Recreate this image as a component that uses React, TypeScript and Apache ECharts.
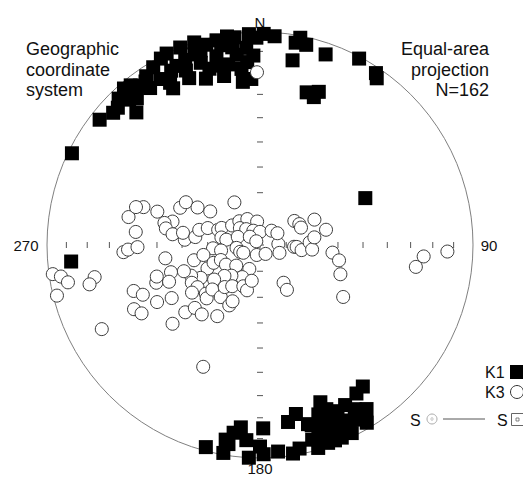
import React, { useEffect, useRef } from "react";
import * as echarts from "echarts";

// K1 (maximum susceptibility axes): trend° and plunge°
const K1_TREND: number[] = [
  1, 4, 357, 351, 352, 358, 356, 357, 354, 345, 342, 338, 334, 332, 347, 348, 342, 337, 331, 326,
  323, 319, 316, 329, 335, 342, 320, 325, 308, 312, 317, 296, 331, 350, 349, 353, 341, 337, 329, 321,
  344, 356, 343, 348, 338, 333, 325, 318, 314, 354, 353, 348, 359, 319,
  11, 10, 13, 10, 19, 28, 34, 35, 17, 21, 20, 66,
  265,
  195, 190, 190, 188, 186, 184, 183, 179, 180, 179, 175, 171, 171, 168, 159, 161, 164, 163, 164, 161,
  155, 157, 160, 157, 153, 151, 147, 149, 147, 144, 161, 155, 158, 154, 165, 158, 152, 159,
  160, 157, 150, 165, 169, 189,
];
const K1_PLUNGE: number[] = [
  1, 2, 1, 1, 7, 12, 15, 23, 24, 3, 0, 0, 0, 1, 10, 15, 19, 16, 14, 5,
  7, 5, 5, 3, 8, 11, 11, 11, 5, 8, 16, 2, 17, 15, 5, 2, 6, 12, 10, 4,
  15, 8, 5, 2, 7, 9, 7, 9, 8, 18, 11, 20, 3, 3,
  1, 4, 4, 13, 6, 1, 3, 5, 26, 24, 27, 45,
  12,
  2, 1, 8, 12, 15, 9, 0, 15, 6, 2, 3, 1, 17, 20, 22, 17, 13, 7, 1, 2,
  15, 8, 7, 2, 8, 7, 9, 3, 18, 19, 9, 10, 13, 2, 14, 18, 16, 2,
  14, 6, 12, 6, 3, 6,
];

// K3 (minimum susceptibility axes): trend° and plunge°
const K3_TREND: number[] = [
  359, 262, 261, 259, 256, 259, 257, 242, 267, 268, 269, 276, 282, 288, 287, 250, 247, 243, 240, 250,
  253, 241, 329, 295, 300, 301, 304, 288, 285, 283, 280, 277, 274, 279, 277, 284, 288, 290, 294, 305,
  319, 334, 353, 310, 319, 335, 0, 281, 279, 266, 262, 290, 309, 315, 263, 251, 245, 198, 148, 87,
  39, 56, 55, 62, 67, 93, 93, 97, 87, 95, 82, 77, 96, 101, 110, 122, 148, 149, 94, 98,
  92, 65, 112, 262, 257, 260, 246, 249, 249, 240, 229, 204, 209, 223, 229, 233, 241, 246, 251, 253,
  248, 241, 236, 235, 228, 225, 227, 217, 220, 214, 207, 206, 202, 196, 193, 239, 228, 226, 220, 211,
  228, 205,
];
const K3_PLUNGE: number[] = [
  20, 2, 6, 9, 2, 22, 19, 17, 36, 38, 42, 41, 37, 42, 39, 37, 40, 34, 36, 47,
  48, 44, 71, 56, 57, 62, 67, 48, 55, 52, 53, 56, 61, 60, 65, 66, 69, 73, 74, 77,
  78, 79, 81, 80, 82, 84, 85, 75, 77, 72, 75, 81, 85, 88, 81, 82, 83, 86, 86, 83,
  83, 82, 74, 73, 73, 77, 76, 74, 71, 70, 69, 64, 62, 59, 57, 52, 73, 70, 24, 27,
  13, 67, 82, 53, 64, 68, 68, 71, 74, 75, 78, 80, 76, 74, 72, 68, 64, 61, 59, 54,
  52, 60, 61, 58, 62, 61, 65, 65, 69, 71, 64, 66, 73, 72, 76, 50, 51, 55, 55, 58,
  44, 37,
];

// Reference ticks every 10° of plunge along the four cardinal directions
const TICK_PLUNGES: number[] = [10, 20, 30, 40, 50, 60, 70, 80];
const TICK_AZIMUTHS: number[] = [0, 90, 180, 270];

const TITLE_LEFT: string[] = ["Geographic", "coordinate", "system"];
const TITLE_RIGHT: string[] = ["Equal-area", "projection", "N=162"];
const LEGEND_LABELS: string[] = ["K1", "K3", "S", "S"];

const FONT = "'Liberation Sans', Arial, Helvetica, sans-serif";

// Lambert equal-area (lower hemisphere) projection of a line, unit primitive circle
function project(trend: number, plunge: number): [number, number] {
  const r = Math.SQRT2 * Math.sin(((90 - plunge) / 2) * (Math.PI / 180));
  const t = (trend * Math.PI) / 180;
  return [r * Math.sin(t), r * Math.cos(t)];
}

export default function App() {
  const ref = useRef<HTMLDivElement>(null);

  useEffect(() => {
    if (!ref.current) return;
    const chart = echarts.init(ref.current, undefined, { renderer: "svg" });

    const k1 = K1_TREND.map((t, i) => project(t, K1_PLUNGE[i]));
    const k3 = K3_TREND.map((t, i) => project(t, K3_PLUNGE[i]));
    const ticks: number[][] = [];
    TICK_AZIMUTHS.forEach((az) =>
      TICK_PLUNGES.forEach((p) => {
        const [x, y] = project(az, p);
        ticks.push([x, y, az]);
      })
    );

    const txt = (text: string, x: number, y: number, size: number, align: string = "left") => ({
      type: "text",
      x,
      y,
      silent: true,
      style: {
        text,
        fill: "#111",
        font: `${size}px ${FONT}`,
        textAlign: align,
        textVerticalAlign: "middle",
        verticalAlign: "middle",
      },
    });

    const graphic: any[] = [
      txt("N", 260, 22, 15, "center"),
      txt("180", 260, 468, 15, "center"),
      txt("270", 26, 245, 15, "center"),
      txt("90", 489, 245, 15, "center"),
      ...TITLE_LEFT.map((s, i) => txt(s, 26, 49 + i * 20.5, 18, "left")),
      ...TITLE_RIGHT.map((s, i) => txt(s, 489, 49 + i * 20.5, 18, "right")),
      txt(LEGEND_LABELS[0], 485, 372, 16, "left"),
      { type: "rect", shape: { x: 510, y: 365, width: 14, height: 14 }, style: { fill: "#000" }, silent: true },
      txt(LEGEND_LABELS[1], 485, 392, 16, "left"),
      { type: "circle", shape: { cx: 517, cy: 392, r: 6.5 }, style: { fill: "#fff", stroke: "#333", lineWidth: 1 }, silent: true },
      txt(LEGEND_LABELS[2], 410, 420, 16, "left"),
      { type: "circle", shape: { cx: 432, cy: 419, r: 5 }, style: { fill: "#fff", stroke: "#aaa", lineWidth: 1 }, silent: true },
      { type: "circle", shape: { cx: 432, cy: 419, r: 1.2 }, style: { fill: "none", stroke: "#aaa", lineWidth: 0.8 }, silent: true },
      { type: "line", shape: { x1: 443, y1: 419, x2: 485, y2: 419 }, style: { stroke: "#555", lineWidth: 1 }, silent: true },
      txt(LEGEND_LABELS[3], 497, 420, 16, "left"),
      { type: "rect", shape: { x: 511.5, y: 413.5, width: 12, height: 12 }, style: { fill: "#fff", stroke: "#666", lineWidth: 1 }, silent: true },
      { type: "rect", shape: { x: 516, y: 418, width: 3, height: 3 }, style: { fill: "none", stroke: "#666", lineWidth: 0.8 }, silent: true },
    ];

    chart.setOption({
      animation: false,
      backgroundColor: "#fff",
      grid: { left: 47, top: 32, width: 426, height: 426 },
      xAxis: { type: "value", min: -1, max: 1, show: false },
      yAxis: { type: "value", min: -1, max: 1, show: false },
      graphic,
      series: [
        {
          type: "custom",
          silent: true,
          clip: false,
          data: [[0, 0]],
          renderItem: (_p: any, api: any) => {
            const c = api.coord([0, 0]);
            const e = api.coord([1, 0]);
            return {
              type: "circle",
              shape: { cx: c[0], cy: c[1], r: e[0] - c[0] },
              style: { fill: "none", stroke: "#808080", lineWidth: 1 },
            };
          },
        },
        {
          type: "custom",
          silent: true,
          clip: false,
          data: ticks,
          renderItem: (_p: any, api: any) => {
            const pt = api.coord([api.value(0), api.value(1)]);
            const az = api.value(2);
            const vertAxis = az === 0 || az === 180;
            return {
              type: "line",
              shape: vertAxis
                ? { x1: pt[0] - 3, y1: pt[1], x2: pt[0] + 3, y2: pt[1] }
                : { x1: pt[0], y1: pt[1] - 3, x2: pt[0], y2: pt[1] + 3 },
              style: { stroke: "#555", lineWidth: 1 },
            };
          },
        },
        {
          type: "custom",
          silent: true,
          clip: false,
          data: [[0, 0]],
          renderItem: (_p: any, api: any) => {
            const c = api.coord([0, 0]);
            return {
              type: "group",
              children: [
                { type: "line", shape: { x1: c[0] - 4, y1: c[1], x2: c[0] + 4, y2: c[1] }, style: { stroke: "#555", lineWidth: 1 } },
                { type: "line", shape: { x1: c[0], y1: c[1] - 4, x2: c[0], y2: c[1] + 4 }, style: { stroke: "#555", lineWidth: 1 } },
              ],
            };
          },
        },
        {
          name: "K1",
          type: "scatter",
          symbol: "rect",
          symbolSize: 14,
          data: k1,
          itemStyle: { color: "#000", opacity: 1 },
        },
        {
          name: "K3",
          type: "scatter",
          symbol: "circle",
          symbolSize: 13,
          data: k3,
          itemStyle: { color: "#fff", borderColor: "#3a3a3a", borderWidth: 1, opacity: 1 },
        },
      ],
    });

    return () => chart.dispose();
  }, []);

  return (
    <div
      ref={ref}
      style={{ position: "absolute", left: 0, top: 0, width: 523, height: 477 }}
    />
  );
}
